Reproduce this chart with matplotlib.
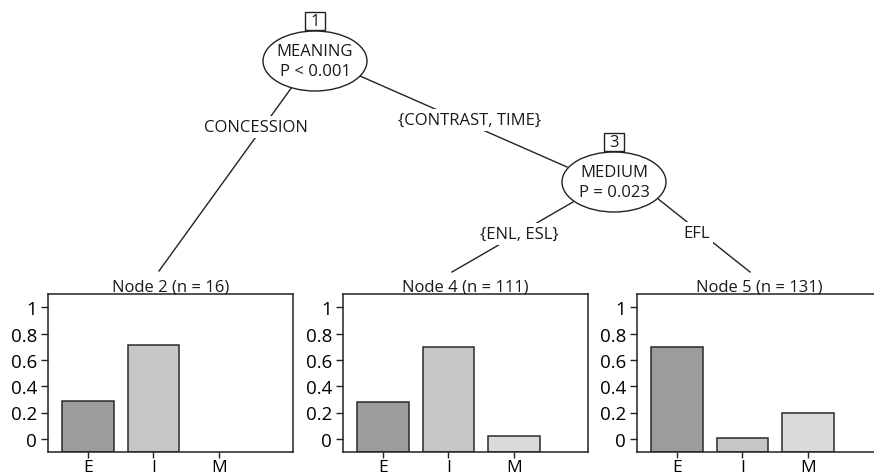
import matplotlib.pyplot as plt
from matplotlib.patches import Ellipse, Rectangle
import numpy as np

plt.rcParams['font.family'] = ['Open Sans', 'DejaVu Sans']

# ── Data ──────────────────────────────────────────────────────────────────────
classes = ["E", "I", "M"]
node_titles = ["Node 2 (n = 16)", "Node 4 (n = 111)", "Node 5 (n = 131)"]
node2_props = [0.29, 0.71, np.nan]      # no M cases in node 2
node4_props = [0.28, 0.70, 0.02]
node5_props = [0.70, 0.004, 0.20]
bar_colors = ["#9c9c9c", "#c6c6c6", "#dadada"]

inner_nodes = [("1", "MEANING", "P < 0.001"), ("3", "MEDIUM", "P = 0.023")]
edge_labels = ["CONCESSION", "{CONTRAST, TIME}", "{ENL, ESL}", "EFL"]

W, H = 874, 477
fig = plt.figure(figsize=(W / 100, H / 100), dpi=100)

# ── Terminal node bar plots ───────────────────────────────────────────────────
panel_left = [48, 343, 637]
panel_w = 245
top, bottom = 295, 453
for left, title, props in zip(panel_left, node_titles,
                              [node2_props, node4_props, node5_props]):
    ax = fig.add_axes([left / W, 1 - bottom / H, panel_w / W, (bottom - top) / H])
    x = np.arange(len(classes))
    ymin = -0.1
    heights = [p - ymin for p in props]
    ax.bar(x, heights, bottom=ymin, width=0.78, color=bar_colors,
           edgecolor="#2a2a2a", linewidth=1.1)
    ax.set_xlim(-0.61, 3.13)
    ax.set_ylim(ymin, 1.1)
    ax.set_xticks(x)
    ax.set_xticklabels(classes, fontsize=12.5)
    ax.set_yticks([0, 0.2, 0.4, 0.6, 0.8, 1])
    ax.set_yticklabels(["0", "0.2", "0.4", "0.6", "0.8", "1"], fontsize=13.5)
    ax.tick_params(axis="x", length=4, width=1, color="#222222", pad=1)
    ax.tick_params(axis="y", length=5, width=1, color="#222222", pad=3)
    for s in ax.spines.values():
        s.set_linewidth(1.1)
        s.set_color("#222222")
    ax.set_title(title, fontsize=12, pad=2, color="#1a1a1a")

# ── Tree overlay in pixel coordinates ─────────────────────────────────────────
ov = fig.add_axes([0, 0, 1, 1], zorder=5)
ov.set_xlim(0, W)
ov.set_ylim(H, 0)
ov.axis("off")
ov.patch.set_alpha(0)

line_kw = dict(color="#222222", lw=1.0, zorder=1)
edges = [((292, 88), (159, 272)),
         ((360, 77), (567, 168)),
         ((573, 203), (452, 273)),
         ((657, 199), (750, 273))]
label_pos = [(256, 128), (470, 121), (519, 235), (697, 234)]
for ((x0, y0), (x1, y1)), lab, (lx, ly) in zip(edges, edge_labels, label_pos):
    ov.plot([x0, x1], [y0, y1], **line_kw)
    ov.text(lx, ly, lab, ha="center", va="center", fontsize=12, zorder=3,
            color="#1a1a1a",
            bbox=dict(facecolor="white", edgecolor="none", pad=2))

node_xy = [(315, 62), (614, 183)]
for (cx, cy), (num, var, pval) in zip(node_xy, inner_nodes):
    ov.add_patch(Ellipse((cx, cy), 104, 60, facecolor="white",
                         edgecolor="#222222", lw=1.0, zorder=4))
    ov.text(cx, cy - 10, var, ha="center", va="center", fontsize=12,
            color="#1a1a1a", zorder=5)
    ov.text(cx, cy + 10, pval, ha="center", va="center", fontsize=12,
            color="#1a1a1a", zorder=5)
    ov.add_patch(Rectangle((cx - 10, cy - 49), 20, 18, facecolor="white",
                           edgecolor="#222222", lw=1.0, zorder=6))
    ov.text(cx, cy - 40, num, ha="center", va="center", fontsize=12,
            color="#1a1a1a", zorder=7)

fig.savefig("out.png", dpi=100)
